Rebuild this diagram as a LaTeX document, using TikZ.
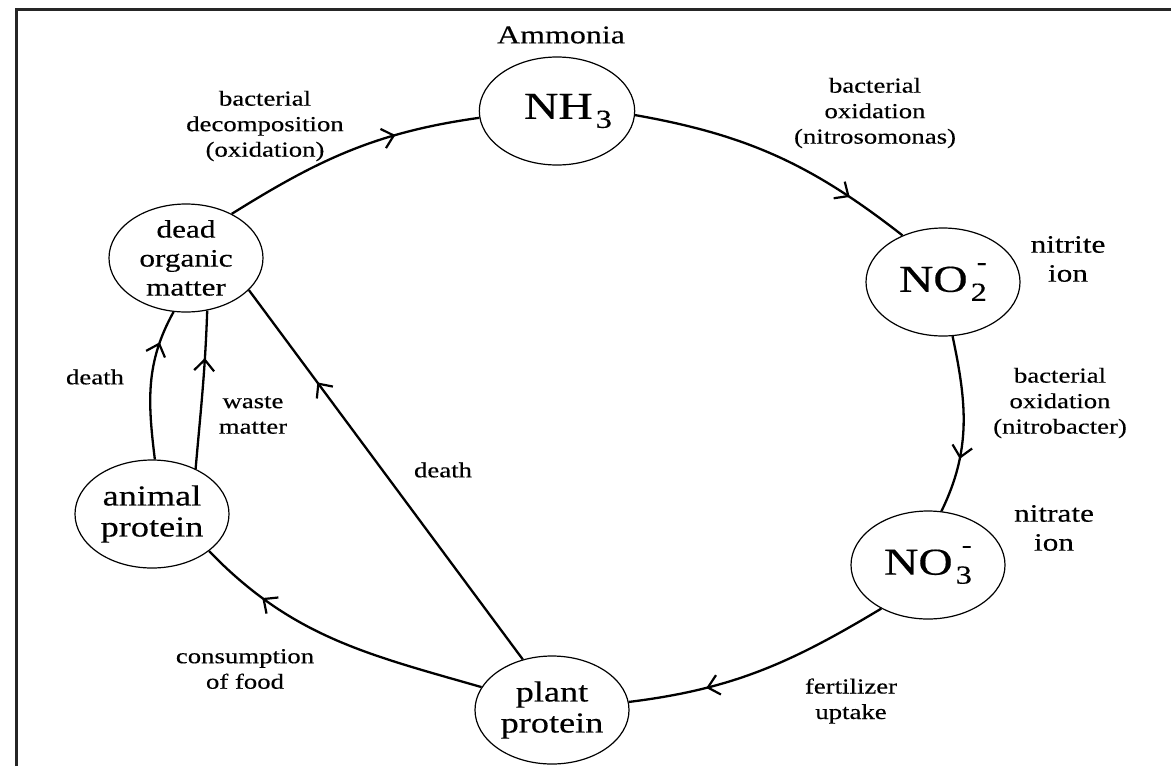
\documentclass[tikz,border=0pt]{standalone}
\usepackage{fontspec}
\setmainfont[FakeStretch=1.25,FakeBold=0.35]{Liberation Serif}
\usetikzlibrary{shapes.geometric,arrows.meta,decorations.markings}
\newcommand\ionsub[2]{\hspace{1.5pt}\rlap{\hspace{3pt}\raisebox{11pt}{\fontsize{12}{12}\selectfont #2}}\raisebox{-4.5pt}{\fontsize{13}{13}\selectfont #1}}
\begin{document}
\begin{tikzpicture}[x=0.5pt,y=0.5pt,
  state/.style={ellipse,draw,line width=0.6pt,minimum width=77pt,minimum height=54pt,inner sep=0pt,align=center},
  flow/.style={draw,line width=1.15pt},
  midarrow/.style={postaction={decorate},decoration={markings,mark=at position #1 with {\arrow{Straight Barb[length=5.5pt,width=10pt,line width=1.1pt]}}}},
  lbl/.style={align=center,inner sep=0pt,font=\fontsize{10.7}{12.75}\selectfont},
  midlbl/.style={align=center,inner sep=0pt,font=\fontsize{12.5}{14.5}\selectfont},
  frame/.style={line width=1.5pt,draw=black!85}
]
\useasboundingbox (0,-766) rectangle (1171,0);
% frame
\coordinate (fbl) at (16,-766);
\coordinate (ftl) at (16,-9);
\coordinate (ftr) at (1171,-9);
\draw[frame] (fbl) -- (ftl) -- (ftr);

% nodes
\node[state,font=\fontsize{12.5}{14.5}\selectfont] (dom) at (186,-258) {dead\\organic\\matter};
\node[state,font=\fontsize{19}{20}\selectfont] (nh3) at (557,-111) {\hspace{11pt}NH\ionsub{3}{}};
\node[state,font=\fontsize{19}{20}\selectfont] (no2) at (943,-282) {NO\ionsub{2}{-}};
\node[state,font=\fontsize{19}{20}\selectfont] (no3) at (928,-565) {NO\ionsub{3}{-}};
\node[state,font=\fontsize{14.5}{15.5}\selectfont] (ani) at (152,-514) {animal\\protein};
\node[state,font=\fontsize{14.5}{15.5}\selectfont] (pla) at (552,-710) {plant\\protein};

% labels
\node[inner sep=0pt,font=\fontsize{12.8}{14}\selectfont] (amm) at (561,-35) {Ammonia};
\node[lbl] (ldec) at (265,-126) {bacterial\\decomposition\\(oxidation)};
\node[lbl] (lnso) at (875,-113) {bacterial\\oxidation\\(nitrosomonas)};
\node[midlbl] (lnit) at (1068,-259) {nitrite\\ion};
\node[lbl] (lnbc) at (1060,-403) {bacterial\\oxidation\\(nitrobacter)};
\node[midlbl] (lnat) at (1054,-528) {nitrate\\ion};
\node[lbl] (lfer) at (851,-701) {fertilizer\\uptake};
\node[lbl] (lcon) at (245,-669) {consumption\\of food};
\node[lbl] (ldt2) at (443,-470) {death};
\node[lbl] (lwas) at (253,-415) {waste\\matter};
\node[lbl] (ldt1) at (95,-377) {death};

% connectors
\draw[flow,midarrow=0.68] (dom.44) to[out=32,in=188] (nh3.185);
\draw[flow,midarrow=0.78] (nh3.-3) to[out=-10,in=142] (no2.131);
\draw[flow,midarrow=0.69] (no2.280) to[out=-78,in=64] (no3.76);
\draw[flow,midarrow=0.71] (no3.223) to[out=211,in=7] (pla.6);
\draw[flow,midarrow=0.77] (pla.162) to[out=164,in=-46] (ani.327);
\draw[flow,midarrow=0.75] (pla.120) -- (dom.333);
\draw[flow,midarrow=0.78] (ani.87) to[out=97,in=241] (dom.257);
\draw[flow,midarrow=0.70] (ani.46) to[out=85,in=268] (dom.292);
\end{tikzpicture}
\end{document}
